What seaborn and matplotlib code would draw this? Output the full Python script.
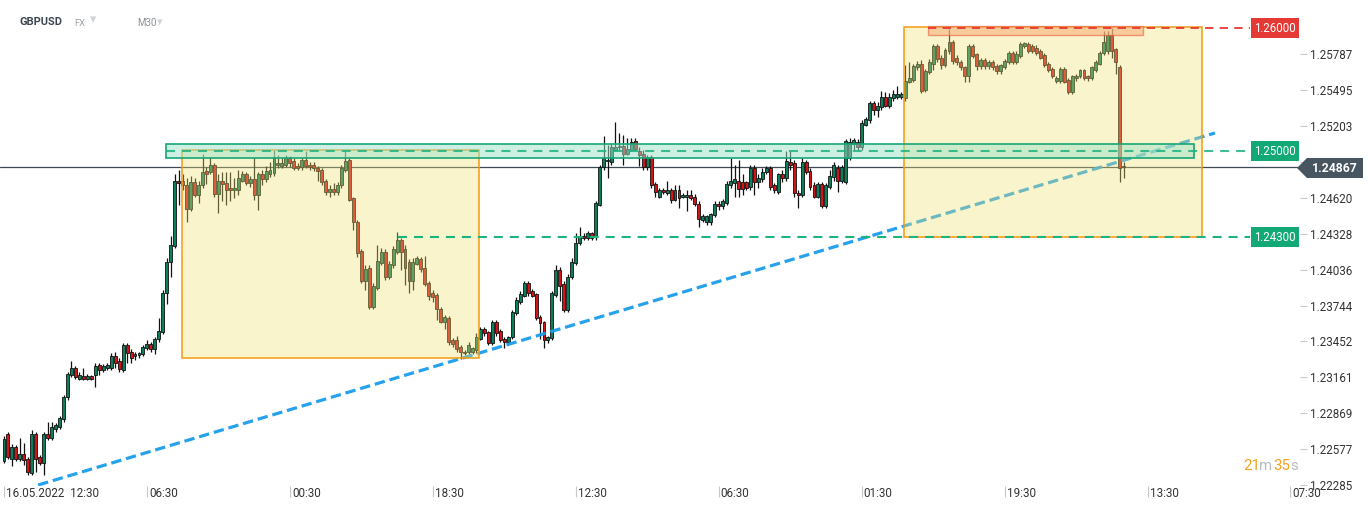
import numpy as np
import pandas as pd
import matplotlib
matplotlib.use('Agg')
import matplotlib.pyplot as plt
import seaborn as sns
from matplotlib.patches import Rectangle, Polygon
from matplotlib.transforms import blended_transform_factory, ScaledTranslation

sns.set_theme(style='white')
plt.rcParams['font.family'] = ['Roboto', 'DejaVu Sans']
plt.rcParams['lines.scale_dashes'] = False

# GBPUSD M30 candles
opens = [
    1.2248, 1.2270, 1.2250, 1.2259, 1.2250, 1.2254, 1.2250, 1.2238, 1.2270, 1.2251,
    1.2246, 1.2270, 1.2267, 1.2274, 1.2276, 1.2282, 1.2300, 1.2318, 1.2324, 1.2315,
    1.2317, 1.2315, 1.2317, 1.2318, 1.2326, 1.2322, 1.2324, 1.2324, 1.2333, 1.2329,
    1.2322, 1.2342, 1.2337, 1.2333, 1.2334, 1.2335, 1.2340, 1.2343, 1.2339, 1.2347,
    1.2353, 1.2385, 1.2410, 1.2423, 1.2476, 1.2476, 1.2472, 1.2453, 1.2475, 1.2464,
    1.2472, 1.2484, 1.2483, 1.2489, 1.2465, 1.2476, 1.2474, 1.2470, 1.2468, 1.2468,
    1.2476, 1.2481, 1.2474, 1.2477, 1.2464, 1.2481, 1.2477, 1.2481, 1.2482, 1.2489,
    1.2488, 1.2489, 1.2494, 1.2492, 1.2488, 1.2487, 1.2493, 1.2489, 1.2489, 1.2486,
    1.2485, 1.2476, 1.2467, 1.2469, 1.2467, 1.2472, 1.2485, 1.2493, 1.2462, 1.2442,
    1.2419, 1.2394, 1.2405, 1.2373, 1.2389, 1.2409, 1.2418, 1.2398, 1.2407, 1.2418,
    1.2428, 1.2420, 1.2410, 1.2394, 1.2408, 1.2412, 1.2405, 1.2393, 1.2385, 1.2383,
    1.2372, 1.2361, 1.2364, 1.2346, 1.2346, 1.2341, 1.2336, 1.2337, 1.2337, 1.2338,
    1.2347, 1.2355, 1.2353, 1.2344, 1.2361, 1.2354, 1.2347, 1.2345, 1.2349, 1.2368,
    1.2377, 1.2382, 1.2393, 1.2386, 1.2384, 1.2365, 1.2361, 1.2346, 1.2348, 1.2383,
    1.2403, 1.2392, 1.2371, 1.2398, 1.2409, 1.2425, 1.2431, 1.2429, 1.2433, 1.2430,
    1.2456, 1.2487, 1.2492, 1.2491, 1.2501, 1.2503, 1.2504, 1.2498, 1.2501, 1.2508,
    1.2500, 1.2498, 1.2487, 1.2495, 1.2473, 1.2463, 1.2468, 1.2466, 1.2468, 1.2460,
    1.2468, 1.2463, 1.2463, 1.2464, 1.2463, 1.2457, 1.2444, 1.2442, 1.2442, 1.2448,
    1.2457, 1.2455, 1.2458, 1.2472, 1.2474, 1.2476, 1.2475, 1.2475, 1.2471, 1.2486,
    1.2475, 1.2477, 1.2483, 1.2486, 1.2472, 1.2467, 1.2481, 1.2478, 1.2491, 1.2490,
    1.2466, 1.2464, 1.2491, 1.2484, 1.2472, 1.2463, 1.2473, 1.2455, 1.2471, 1.2479,
    1.2486, 1.2476, 1.2475, 1.2494, 1.2506, 1.2507, 1.2503, 1.2521, 1.2525, 1.2539,
    1.2533, 1.2536, 1.2544, 1.2537, 1.2543, 1.2544, 1.2544, 1.2543, 1.2556, 1.2558,
    1.2568, 1.2571, 1.2550, 1.2564, 1.2571, 1.2585, 1.2576, 1.2570, 1.2581, 1.2589,
    1.2576, 1.2572, 1.2568, 1.2561, 1.2585, 1.2579, 1.2569, 1.2574, 1.2569, 1.2572,
    1.2569, 1.2565, 1.2568, 1.2572, 1.2580, 1.2572, 1.2577, 1.2585, 1.2587, 1.2585,
    1.2584, 1.2581, 1.2578, 1.2571, 1.2567, 1.2557, 1.2557, 1.2567, 1.2558, 1.2548,
    1.2559, 1.2561, 1.2566, 1.2561, 1.2559, 1.2566, 1.2571, 1.2580, 1.2581, 1.2594,
    1.2583, 1.2568, 1.2488,
]
highs = [
    1.2268, 1.2272, 1.2262, 1.2261, 1.2267, 1.2263, 1.2251, 1.2273, 1.2272, 1.2253,
    1.2272, 1.2280, 1.2280, 1.2279, 1.2285, 1.2302, 1.2320, 1.2329, 1.2325, 1.2320,
    1.2324, 1.2319, 1.2318, 1.2328, 1.2328, 1.2327, 1.2328, 1.2336, 1.2337, 1.2332,
    1.2344, 1.2344, 1.2339, 1.2337, 1.2337, 1.2342, 1.2346, 1.2345, 1.2349, 1.2364,
    1.2387, 1.2413, 1.2431, 1.2481, 1.2485, 1.2481, 1.2478, 1.2480, 1.2478, 1.2476,
    1.2498, 1.2487, 1.2495, 1.2490, 1.2481, 1.2483, 1.2483, 1.2483, 1.2478, 1.2485,
    1.2484, 1.2483, 1.2480, 1.2494, 1.2483, 1.2485, 1.2488, 1.2491, 1.2501, 1.2497,
    1.2494, 1.2497, 1.2496, 1.2494, 1.2490, 1.2494, 1.2500, 1.2491, 1.2491, 1.2488,
    1.2486, 1.2477, 1.2472, 1.2474, 1.2475, 1.2489, 1.2500, 1.2494, 1.2463, 1.2444,
    1.2420, 1.2407, 1.2407, 1.2393, 1.2424, 1.2421, 1.2420, 1.2411, 1.2423, 1.2434,
    1.2429, 1.2424, 1.2412, 1.2413, 1.2415, 1.2414, 1.2415, 1.2394, 1.2387, 1.2385,
    1.2373, 1.2367, 1.2366, 1.2348, 1.2350, 1.2342, 1.2338, 1.2345, 1.2341, 1.2352,
    1.2357, 1.2357, 1.2354, 1.2363, 1.2363, 1.2355, 1.2349, 1.2350, 1.2371, 1.2381,
    1.2386, 1.2394, 1.2394, 1.2388, 1.2385, 1.2367, 1.2362, 1.2350, 1.2386, 1.2407,
    1.2406, 1.2394, 1.2400, 1.2413, 1.2433, 1.2438, 1.2433, 1.2435, 1.2434, 1.2459,
    1.2489, 1.2512, 1.2505, 1.2506, 1.2524, 1.2515, 1.2513, 1.2511, 1.2511, 1.2511,
    1.2503, 1.2501, 1.2497, 1.2497, 1.2475, 1.2470, 1.2470, 1.2476, 1.2470, 1.2472,
    1.2472, 1.2466, 1.2468, 1.2468, 1.2465, 1.2459, 1.2449, 1.2448, 1.2450, 1.2459,
    1.2459, 1.2461, 1.2476, 1.2494, 1.2489, 1.2493, 1.2481, 1.2476, 1.2489, 1.2489,
    1.2481, 1.2486, 1.2488, 1.2488, 1.2474, 1.2482, 1.2485, 1.2500, 1.2500, 1.2493,
    1.2468, 1.2494, 1.2493, 1.2486, 1.2475, 1.2475, 1.2475, 1.2474, 1.2485, 1.2491,
    1.2489, 1.2489, 1.2510, 1.2511, 1.2511, 1.2510, 1.2525, 1.2528, 1.2541, 1.2541,
    1.2540, 1.2549, 1.2548, 1.2547, 1.2550, 1.2553, 1.2548, 1.2570, 1.2572, 1.2571,
    1.2573, 1.2574, 1.2567, 1.2575, 1.2587, 1.2587, 1.2578, 1.2584, 1.2599, 1.2590,
    1.2578, 1.2574, 1.2569, 1.2587, 1.2587, 1.2580, 1.2576, 1.2576, 1.2574, 1.2574,
    1.2571, 1.2571, 1.2575, 1.2581, 1.2581, 1.2581, 1.2589, 1.2589, 1.2589, 1.2587,
    1.2586, 1.2583, 1.2580, 1.2572, 1.2568, 1.2561, 1.2568, 1.2568, 1.2559, 1.2562,
    1.2563, 1.2567, 1.2567, 1.2562, 1.2569, 1.2574, 1.2581, 1.2598, 1.2598, 1.2600,
    1.2584, 1.2570, 1.2491,
]
lows = [
    1.2246, 1.2250, 1.2244, 1.2248, 1.2248, 1.2245, 1.2237, 1.2237, 1.2239, 1.2245,
    1.2237, 1.2265, 1.2265, 1.2272, 1.2274, 1.2280, 1.2298, 1.2316, 1.2315, 1.2314,
    1.2314, 1.2314, 1.2314, 1.2308, 1.2318, 1.2320, 1.2322, 1.2322, 1.2324, 1.2320,
    1.2320, 1.2328, 1.2328, 1.2330, 1.2332, 1.2333, 1.2338, 1.2337, 1.2335, 1.2345,
    1.2351, 1.2376, 1.2398, 1.2421, 1.2456, 1.2468, 1.2442, 1.2451, 1.2463, 1.2458,
    1.2470, 1.2473, 1.2481, 1.2463, 1.2450, 1.2459, 1.2456, 1.2459, 1.2462, 1.2464,
    1.2475, 1.2472, 1.2471, 1.2460, 1.2452, 1.2472, 1.2475, 1.2479, 1.2480, 1.2486,
    1.2486, 1.2487, 1.2487, 1.2485, 1.2485, 1.2485, 1.2486, 1.2485, 1.2484, 1.2476,
    1.2472, 1.2464, 1.2463, 1.2464, 1.2464, 1.2470, 1.2483, 1.2459, 1.2436, 1.2414,
    1.2393, 1.2387, 1.2372, 1.2372, 1.2387, 1.2407, 1.2395, 1.2396, 1.2405, 1.2416,
    1.2403, 1.2391, 1.2385, 1.2387, 1.2407, 1.2402, 1.2390, 1.2379, 1.2377, 1.2363,
    1.2360, 1.2355, 1.2342, 1.2341, 1.2337, 1.2331, 1.2334, 1.2335, 1.2335, 1.2336,
    1.2346, 1.2350, 1.2342, 1.2342, 1.2350, 1.2345, 1.2340, 1.2342, 1.2347, 1.2367,
    1.2376, 1.2381, 1.2382, 1.2381, 1.2363, 1.2347, 1.2340, 1.2344, 1.2346, 1.2381,
    1.2378, 1.2369, 1.2369, 1.2396, 1.2407, 1.2424, 1.2428, 1.2428, 1.2428, 1.2428,
    1.2455, 1.2485, 1.2478, 1.2489, 1.2500, 1.2501, 1.2489, 1.2497, 1.2500, 1.2500,
    1.2488, 1.2485, 1.2485, 1.2470, 1.2463, 1.2462, 1.2465, 1.2464, 1.2458, 1.2459,
    1.2454, 1.2462, 1.2451, 1.2460, 1.2455, 1.2438, 1.2442, 1.2440, 1.2440, 1.2446,
    1.2452, 1.2453, 1.2456, 1.2470, 1.2463, 1.2463, 1.2464, 1.2468, 1.2468, 1.2464,
    1.2470, 1.2475, 1.2481, 1.2468, 1.2466, 1.2465, 1.2475, 1.2476, 1.2485, 1.2463,
    1.2454, 1.2463, 1.2481, 1.2468, 1.2462, 1.2462, 1.2454, 1.2454, 1.2469, 1.2476,
    1.2467, 1.2474, 1.2473, 1.2493, 1.2501, 1.2501, 1.2501, 1.2520, 1.2523, 1.2529,
    1.2528, 1.2533, 1.2536, 1.2535, 1.2541, 1.2542, 1.2542, 1.2541, 1.2555, 1.2556,
    1.2566, 1.2547, 1.2548, 1.2563, 1.2566, 1.2572, 1.2567, 1.2568, 1.2579, 1.2571,
    1.2570, 1.2566, 1.2556, 1.2556, 1.2576, 1.2566, 1.2567, 1.2567, 1.2567, 1.2566,
    1.2563, 1.2563, 1.2567, 1.2571, 1.2571, 1.2571, 1.2576, 1.2584, 1.2580, 1.2580,
    1.2578, 1.2575, 1.2568, 1.2564, 1.2559, 1.2555, 1.2555, 1.2555, 1.2546, 1.2546,
    1.2557, 1.2559, 1.2558, 1.2557, 1.2558, 1.2564, 1.2570, 1.2578, 1.2579, 1.2576,
    1.2563, 1.2475, 1.2478,
]
closes = [
    1.2266, 1.2251, 1.2259, 1.2250, 1.2254, 1.2249, 1.2239, 1.2270, 1.2250, 1.2246,
    1.2270, 1.2267, 1.2276, 1.2277, 1.2283, 1.2300, 1.2319, 1.2324, 1.2316, 1.2318,
    1.2315, 1.2317, 1.2315, 1.2325, 1.2322, 1.2325, 1.2326, 1.2333, 1.2328, 1.2323,
    1.2342, 1.2336, 1.2332, 1.2335, 1.2336, 1.2341, 1.2343, 1.2339, 1.2347, 1.2354,
    1.2385, 1.2410, 1.2424, 1.2476, 1.2474, 1.2472, 1.2453, 1.2475, 1.2464, 1.2472,
    1.2483, 1.2481, 1.2489, 1.2465, 1.2476, 1.2473, 1.2468, 1.2468, 1.2470, 1.2478,
    1.2481, 1.2474, 1.2477, 1.2464, 1.2481, 1.2477, 1.2484, 1.2485, 1.2495, 1.2490,
    1.2490, 1.2494, 1.2490, 1.2486, 1.2486, 1.2493, 1.2488, 1.2487, 1.2486, 1.2484,
    1.2475, 1.2467, 1.2469, 1.2467, 1.2472, 1.2486, 1.2492, 1.2460, 1.2442, 1.2417,
    1.2394, 1.2404, 1.2373, 1.2390, 1.2411, 1.2418, 1.2398, 1.2408, 1.2420, 1.2428,
    1.2418, 1.2405, 1.2394, 1.2410, 1.2413, 1.2404, 1.2392, 1.2382, 1.2381, 1.2372,
    1.2361, 1.2365, 1.2345, 1.2343, 1.2339, 1.2337, 1.2337, 1.2342, 1.2340, 1.2349,
    1.2355, 1.2352, 1.2344, 1.2361, 1.2352, 1.2346, 1.2345, 1.2349, 1.2369, 1.2379,
    1.2384, 1.2393, 1.2385, 1.2382, 1.2364, 1.2360, 1.2346, 1.2349, 1.2385, 1.2403,
    1.2390, 1.2371, 1.2398, 1.2410, 1.2425, 1.2431, 1.2429, 1.2433, 1.2429, 1.2458,
    1.2487, 1.2494, 1.2493, 1.2503, 1.2503, 1.2504, 1.2498, 1.2502, 1.2507, 1.2502,
    1.2497, 1.2487, 1.2495, 1.2472, 1.2467, 1.2468, 1.2467, 1.2468, 1.2460, 1.2468,
    1.2462, 1.2464, 1.2464, 1.2462, 1.2457, 1.2445, 1.2447, 1.2447, 1.2449, 1.2457,
    1.2455, 1.2459, 1.2473, 1.2476, 1.2477, 1.2469, 1.2469, 1.2470, 1.2486, 1.2475,
    1.2478, 1.2483, 1.2486, 1.2471, 1.2468, 1.2481, 1.2478, 1.2492, 1.2489, 1.2466,
    1.2464, 1.2491, 1.2483, 1.2471, 1.2463, 1.2473, 1.2455, 1.2472, 1.2480, 1.2489,
    1.2476, 1.2487, 1.2508, 1.2507, 1.2509, 1.2503, 1.2523, 1.2526, 1.2539, 1.2533,
    1.2537, 1.2544, 1.2537, 1.2544, 1.2546, 1.2546, 1.2546, 1.2557, 1.2559, 1.2569,
    1.2571, 1.2549, 1.2565, 1.2572, 1.2585, 1.2575, 1.2570, 1.2582, 1.2589, 1.2573,
    1.2572, 1.2568, 1.2561, 1.2585, 1.2577, 1.2569, 1.2574, 1.2569, 1.2572, 1.2568,
    1.2565, 1.2570, 1.2573, 1.2580, 1.2572, 1.2579, 1.2587, 1.2588, 1.2581, 1.2581,
    1.2580, 1.2576, 1.2570, 1.2566, 1.2561, 1.2559, 1.2567, 1.2556, 1.2548, 1.2561,
    1.2561, 1.2566, 1.2559, 1.2559, 1.2568, 1.2572, 1.2580, 1.2589, 1.2594, 1.2581,
    1.2572, 1.2486, 1.2487,
]

time_ticks = [0, 36, 72, 108, 144, 180, 216, 252, 288, 324]
time_labels = ['16.05.2022  12:30', '06:30', '00:30', '18:30', '12:30',
               '06:30', '01:30', '19:30', '13:30', '07:30']
price_ticks = [1.22285, 1.22577, 1.22869, 1.23161, 1.23452, 1.23744, 1.24036,
               1.24328, 1.24620, 1.24911, 1.25203, 1.25495, 1.25787]

last_price = 1.24867
resistance = 1.26000
pivot = 1.25000
support = 1.24300

df = pd.DataFrame({'open': opens, 'high': highs, 'low': lows, 'close': closes})
df['bar'] = np.arange(len(df))
up = df['close'] >= df['open']

GREEN = '#0b7f5c'
RED = '#d01419'

fig = plt.figure(figsize=(13.68, 5.09), dpi=100)
fig.patch.set_facecolor('white')
ax = fig.add_axes([0, 23 / 509, 1300 / 1368, 486 / 509])
ax.set_facecolor('white')

ax.axhline(last_price, color='#3d4a55', lw=0.9, zorder=1)

# candles
ax.vlines(df['bar'], df['low'], df['high'], color='#111111', lw=0.9, zorder=2)
body_h = (df['close'] - df['open']).abs().clip(lower=0.00002)
body_b = df[['open', 'close']].min(axis=1)
ax.bar(df['bar'], body_h, bottom=body_b, width=0.74,
       color=np.where(up, GREEN, RED), edgecolor='#111111', linewidth=0.6, zorder=3)

# trend line (sits under the zones, as in the original)
ax.plot([8.6, 305.0], [1.22285, 1.25147], color='#1a9ded', lw=2.3,
        dashes=(7.5, 3.5), alpha=0.95, zorder=3.5)

# yellow zones
for x0, x1, lo, hi in [(44.8, 119.6, 1.2332, 1.2501), (226.7, 301.8, 1.2430, 1.2601)]:
    ax.add_patch(Rectangle((x0, lo), x1 - x0, hi - lo, facecolor='#efe272',
                           alpha=0.36, edgecolor='none', zorder=4))
    ax.add_patch(Rectangle((x0, lo), x1 - x0, hi - lo, fill=False,
                           edgecolor='#f39a12', lw=1.1, zorder=4.5))

# green band around 1.25
ax.add_patch(Rectangle((40.8, 1.2494), 299.7 - 40.8, 0.0012, facecolor='#9fe3c9',
                       alpha=0.5, edgecolor='none', zorder=5))
ax.add_patch(Rectangle((40.8, 1.2494), 299.7 - 40.8, 0.0012, fill=False,
                       edgecolor='#17a677', lw=1.2, zorder=5.5))

# orange-red band at top
ax.add_patch(Rectangle((232.7, 1.2594), 286.9 - 232.7, 0.0008, facecolor='#f7b07a',
                       alpha=0.6, edgecolor='#e8603c', lw=1.0, zorder=5))

# levels
ax.plot([232.7, 313.9], [resistance, resistance], color='#e53935', lw=1.3,
        dashes=(6, 4.5), zorder=6)
ax.plot([40.8, 313.9], [pivot, pivot], color='#1db37f', lw=1.5, dashes=(6.5, 5),
        alpha=0.85, zorder=6)
ax.plot([99.2, 313.9], [support, support], color='#1db37f', lw=1.5, dashes=(6.5, 5),
        zorder=6)

ax.set_xlim(-1.0, 326.4)
ax.set_ylim(1.22277, 1.26228)
for s in ax.spines.values():
    s.set_visible(False)

ax.yaxis.tick_right()
ax.set_yticks(price_ticks)
ax.set_yticklabels([f'{p:.5f}' for p in price_ticks])
ax.tick_params(axis='y', length=5, width=0.8, color='#c8c8c8', pad=2,
               labelsize=8.4, labelcolor='#333333')

ax.set_xticks(time_ticks)
ax.set_xticklabels(time_labels)
ax.tick_params(axis='x', length=8, width=0.8, color='#c8c8c8', direction='out',
               pad=-7, labelsize=8.4, labelcolor='#333333', bottom=True)
shift = ScaledTranslation(1.5 / 72, 0, fig.dpi_scale_trans)
for lbl in ax.get_xticklabels():
    lbl.set_horizontalalignment('left')
    lbl.set_transform(lbl.get_transform() + shift)

# price tags
tr = blended_transform_factory(ax.transAxes, ax.transData)
for val, col in [(resistance, '#e53935'), (pivot, '#12a977'), (support, '#12a977')]:
    ax.text(1275 / 1300, val, f'{val:.5f}', transform=tr, ha='center', va='center',
            fontsize=8.3, color='white', zorder=8,
            bbox=dict(boxstyle='square,pad=0.28', fc=col, ec='none'))

W, H = 1368, 509
pts = [(1297, 168), (1307, 158), (1363, 158), (1363, 178), (1307, 178)]
fig.add_artist(Polygon([(x / W, 1 - y / H) for x, y in pts], closed=True,
                       facecolor='#465560', edgecolor='none', transform=fig.transFigure,
                       zorder=10))
fig.text(1335 / W, 1 - 168 / H, f'{last_price:.5f}', ha='center', va='center',
         color='white', fontsize=8.8, fontweight='bold', zorder=11)

# header
fig.text(20 / W, 1 - 22 / H, 'GBPUSD', fontsize=8, fontweight='bold', color='#3c4650',
         va='center')
fig.text(74 / W, 1 - 23 / H, 'FX', fontsize=6.8, color='#9aa3a8', va='center')
fig.text(90 / W, 1 - 20 / H, '▾', fontsize=9, color='#cfd3d6', va='center',
         family='DejaVu Sans')
fig.text(137 / W, 1 - 23 / H, 'M30', fontsize=7, color='#8a9095', va='center')
fig.text(157 / W, 1 - 22 / H, '▾', fontsize=8, color='#cfd3d6', va='center',
         family='DejaVu Sans')

# countdown
ORANGE, GREY = '#f5a11c', '#b5bcc3'
for x, s, c in [(1243, '21', ORANGE), (1259, 'm', GREY), (1273, '35', ORANGE), (1290, 's', GREY)]:
    fig.text(x / W, 1 - 466 / H, s, fontsize=10.8, color=c, va='center')

fig.savefig('out.png', dpi=100)
